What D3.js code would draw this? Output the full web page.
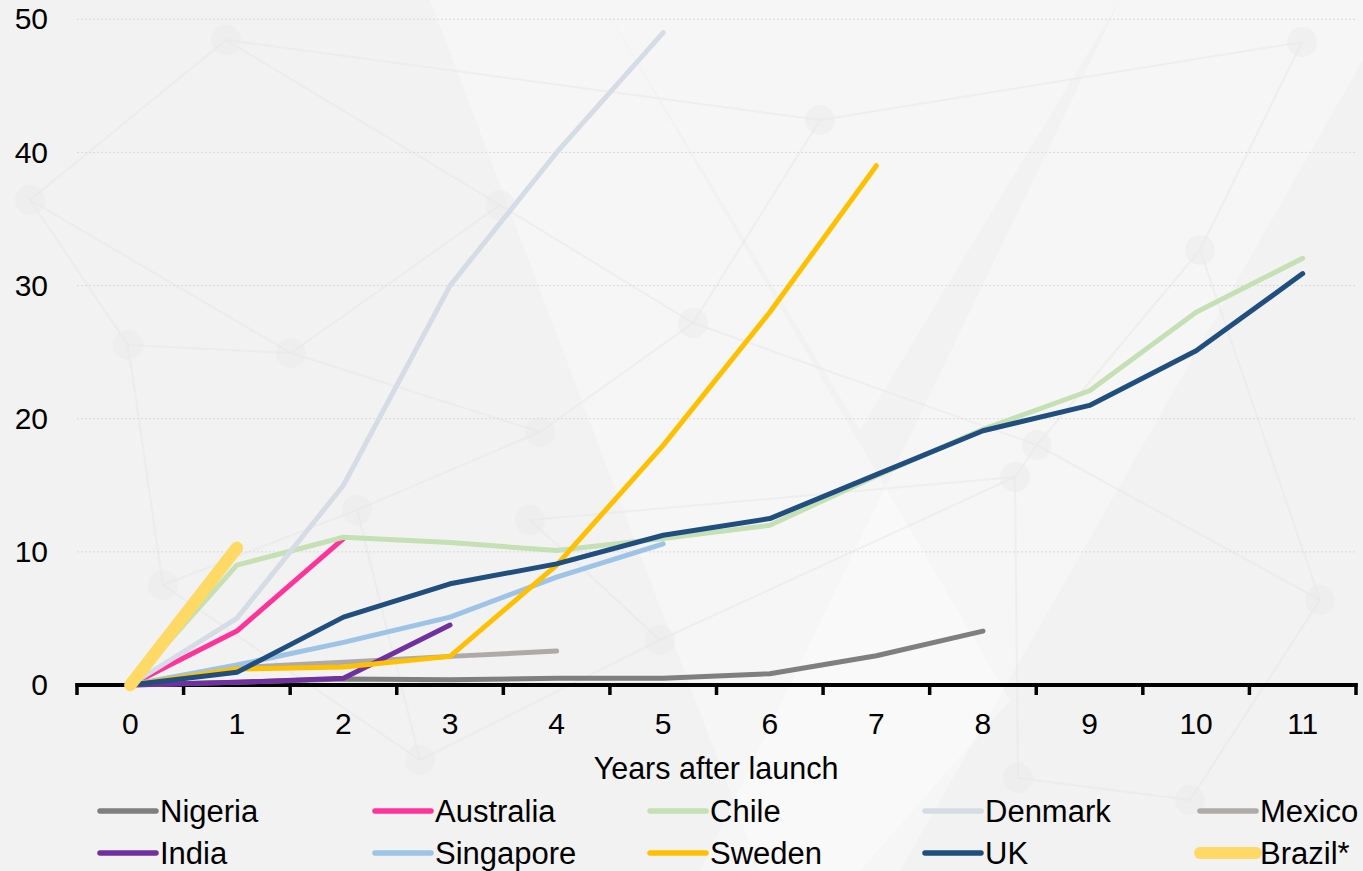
<!DOCTYPE html>
<html>
<head>
<meta charset="utf-8">
<script src="https://cdn.jsdelivr.net/npm/d3@7"></script>
<style>
  html, body { margin: 0; padding: 0; background: #f3f3f3; }
  svg { display: block; }
  text { font-family: "Liberation Sans", Arial, sans-serif; fill: #000; }
</style>
</head>
<body>
<svg id="chart" width="1363" height="871"></svg>
<script>
// Years after launch (category axis)
const years = [0, 1, 2, 3, 4, 5, 6, 7, 8, 9, 10, 11];
const yTicks = [0, 10, 20, 30, 40, 50];

// Series values, one per year since launch
const nigeria   = [0, 0.2, 0.45, 0.4, 0.5, 0.5, 0.85, 2.2, 4.05];
const australia = [0, 4.05, 11];
const chile     = [0, 9, 11.1, 10.7, 10.1, 11, 12, 15.7, 19.2, 22.1, 28, 32.05];
const denmark   = [0, 5, 15, 30, 40, 49];
const mexico    = [0, 1.3, 1.7, 2.15, 2.55];
const india     = [0, 0.2, 0.5, 4.5];
const singapore = [0, 1.5, 3.2, 5.1, 8.1, 10.6];
const sweden    = [0, 1.2, 1.35, 2.15, 9, 18, 28, 39];
const uk        = [0, 0.95, 5.1, 7.6, 9.1, 11.25, 12.5, 15.8, 19.1, 21, 25.1, 30.9];
const brazil    = [0, 10.3];

const seriesNames  = ["Nigeria", "Australia", "Chile", "Denmark", "Mexico",
                      "India", "Singapore", "Sweden", "UK", "Brazil*"];
const seriesValues = [nigeria, australia, chile, denmark, mexico,
                      india, singapore, sweden, uk, brazil];
const seriesColors = ["#7f7f7f", "#ff3399", "#c5e0b4", "#d6dce5", "#aeaaaa",
                      "#7030a0", "#9dc3e6", "#ffc000", "#1f4e7f", "#ffd966"];
const seriesWidths = [5, 5, 5, 5, 5, 5, 5, 5, 5, 12.5];

const series = seriesNames.map((name, i) => ({
  name, values: seriesValues[i], color: seriesColors[i], width: seriesWidths[i]
}));

const svg = d3.select("#chart");
const W = 1363, H = 871;
const plotLeft = 77, plotRight = 1356, plotTop = 19.3, plotBottom = 685;

// ---- decorative network backdrop ----
const bg = svg.append("g").attr("class", "backdrop");
bg.append("rect").attr("width", W).attr("height", H).attr("fill", "#f2f2f2");
const bands = [
  [[430, 0], [600, 0], [1010, 700], [860, 871], [760, 871]],
  [[1120, 0], [1363, 0], [1363, 60], [900, 871], [700, 871]],
  [[600, 0], [1120, 0], [860, 430]]
];
bg.selectAll("polygon.band").data(bands).join("polygon")
  .attr("class", "band")
  .attr("points", d => d.map(p => p.join(",")).join(" "))
  .attr("fill", "#ffffff").attr("opacity", 0.3);
const nodes = [
  [226, 40], [30, 200], [128, 345], [291, 353], [500, 205], [693, 323],
  [540, 432], [357, 510], [530, 520], [163, 585], [1302, 42], [1037, 445],
  [1015, 477], [1018, 778], [1190, 800], [820, 120], [1200, 250], [420, 760],
  [660, 640], [1320, 600]
];
const edges = [
  [0, 1], [0, 4], [1, 2], [2, 3], [3, 4], [3, 6], [4, 5], [5, 6], [6, 7],
  [7, 9], [2, 9], [8, 12], [5, 11], [11, 12], [12, 13], [13, 14], [10, 16],
  [16, 11], [15, 5], [15, 10], [17, 9], [17, 18], [18, 12], [19, 14], [19, 16],
  [0, 15], [1, 3], [7, 17], [8, 18], [11, 19]
];
bg.selectAll("line.edge").data(edges).join("line")
  .attr("class", "edge")
  .attr("x1", d => nodes[d[0]][0]).attr("y1", d => nodes[d[0]][1])
  .attr("x2", d => nodes[d[1]][0]).attr("y2", d => nodes[d[1]][1])
  .attr("stroke", "#e6e6e6").attr("stroke-width", 2).attr("opacity", 0.45);
bg.selectAll("circle.node").data(nodes).join("circle")
  .attr("class", "node")
  .attr("cx", d => d[0]).attr("cy", d => d[1]).attr("r", 15)
  .attr("fill", "#e8e8e8").attr("opacity", 0.45);

// ---- scales ----
const xBand = d3.scaleBand().domain(years).range([plotLeft, plotRight]);
const xPos = d => xBand(d) + xBand.bandwidth() / 2;
const y = d3.scaleLinear().domain([0, 50]).range([plotBottom, plotTop]);

// gridlines
svg.append("g").selectAll("line").data(yTicks.filter(t => t > 0)).join("line")
  .attr("x1", plotLeft).attr("x2", plotRight)
  .attr("y1", d => y(d)).attr("y2", d => y(d))
  .attr("stroke", "#d9d9d9").attr("stroke-width", 1)
  .attr("stroke-dasharray", "2,2");

// y axis labels
const yAxis = svg.append("g")
  .attr("transform", `translate(${plotLeft},0)`)
  .call(d3.axisLeft(y).tickValues(yTicks).tickSize(0).tickPadding(29));
yAxis.select(".domain").remove();
yAxis.selectAll("text").style("font-size", "30px")
  .style("font-family", "'Liberation Sans', Arial, sans-serif").attr("fill", "#000");

// x axis: labels centred in each category, ticks at category edges
const xAxis = svg.append("g")
  .attr("transform", `translate(0,${plotBottom})`)
  .call(d3.axisBottom(xBand).tickSize(0).tickPadding(28));
xAxis.select(".domain").remove();
xAxis.selectAll("text").style("font-size", "30px")
  .style("font-family", "'Liberation Sans', Arial, sans-serif").attr("fill", "#000");

const edgesX = years.map(d => xBand(d)).concat([xBand.range()[1]]);
svg.append("g").selectAll("line").data(edgesX).join("line")
  .attr("x1", d => d).attr("x2", d => d)
  .attr("y1", plotBottom - 2).attr("y2", plotBottom + 10)
  .attr("stroke", "#000").attr("stroke-width", 3.5);
svg.append("line")
  .attr("x1", plotLeft - 1.5).attr("x2", plotRight + 1.5)
  .attr("y1", plotBottom).attr("y2", plotBottom)
  .attr("stroke", "#000").attr("stroke-width", 4);

// series lines
const line = d3.line().x((d, i) => xPos(years[i])).y(d => y(d));
svg.append("g").selectAll("path").data(series).join("path")
  .attr("d", d => line(d.values))
  .attr("fill", "none")
  .attr("stroke", d => d.color)
  .attr("stroke-width", d => d.width)
  .attr("stroke-linecap", "round")
  .attr("stroke-linejoin", "round");

// axis title
svg.append("text")
  .attr("x", 716).attr("y", 779)
  .attr("text-anchor", "middle")
  .style("font-size", "30.5px")
  .text("Years after launch");

// legend: two rows of five
const legend = svg.append("g");
const item = legend.selectAll("g").data(series).join("g")
  .attr("transform", (d, i) => `translate(${100 + (i % 5) * 275},${i < 5 ? 811 : 853})`);
item.append("line")
  .attr("x1", 0).attr("x2", 56).attr("y1", 0).attr("y2", 0)
  .attr("stroke", d => d.color)
  .attr("stroke-width", d => d.width > 10 ? 12 : 5.5)
  .attr("stroke-linecap", "round");
item.append("text")
  .attr("x", 60).attr("y", 11)
  .style("font-size", "31px")
  .text(d => d.name);
</script>
</body>
</html>
